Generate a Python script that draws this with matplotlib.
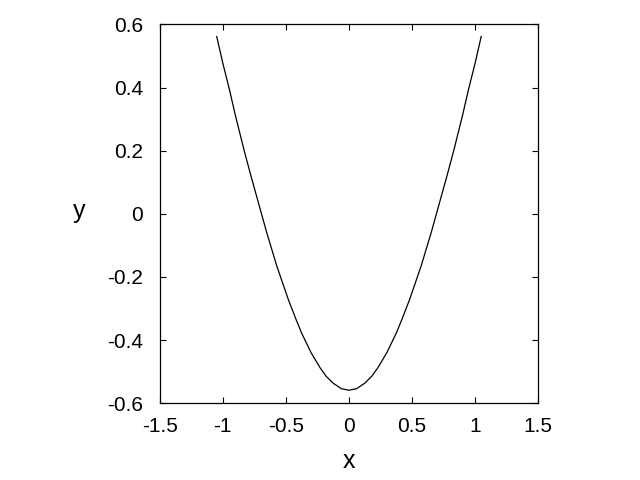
import matplotlib
matplotlib.use('Agg')
from matplotlib import pyplot as plt

# curve points
x_vals = [-1.048, -1.0, -0.948, -0.9, -0.832, -0.78, -0.723, -0.652, -0.573, -0.481,
          -0.42, -0.375, -0.30, -0.23, -0.18, -0.124, -0.06, 0.0,
          0.06, 0.124, 0.18, 0.23, 0.30, 0.375, 0.42, 0.481,
          0.573, 0.652, 0.723, 0.78, 0.832, 0.9, 0.948, 1.0, 1.048]
y_vals = [0.562, 0.478, 0.395, 0.312, 0.203, 0.125, 0.043, -0.059, -0.164, -0.271,
          -0.334, -0.378, -0.440, -0.487, -0.515, -0.537, -0.554, -0.559,
          -0.554, -0.537, -0.515, -0.487, -0.440, -0.378, -0.334, -0.271,
          -0.164, -0.059, 0.043, 0.125, 0.203, 0.312, 0.395, 0.478, 0.562]

x_ticks = [-1.5, -1, -0.5, 0, 0.5, 1, 1.5]
x_ticklabels = ['-1.5', '-1', '-0.5', '0', '0.5', '1', '1.5']
y_ticks = [-0.6, -0.4, -0.2, 0, 0.2, 0.4, 0.6]
y_ticklabels = ['-0.6', '-0.4', '-0.2', '0', '0.2', '0.4', '0.6']

plt.rcParams['font.family'] = ['Liberation Sans', 'DejaVu Sans']
fig = plt.figure(figsize=(6.4, 4.8), dpi=100)
ax = fig.add_axes([0.2495, 0.160, 0.5915, 0.789])
ax.plot(x_vals, y_vals, color='black', linewidth=0.9)
ax.set_xlim(-1.5, 1.5)
ax.set_ylim(-0.6, 0.6)
ax.set_xticks(x_ticks, x_ticklabels)
ax.set_yticks(y_ticks, y_ticklabels)
ax.tick_params(direction='in', length=4.5, width=0.8, top=True, right=True, labelsize=15)
ax.tick_params(axis='x', pad=10)
ax.tick_params(axis='y', pad=12)
for s in ax.spines.values():
    s.set_linewidth(0.9)
ax.set_xlabel('x', fontsize=18, va='center')
ax.set_ylabel('y', fontsize=18, rotation=0, va='center', ha='center')
ax.xaxis.set_label_coords(0.5, -0.153)
ax.yaxis.set_label_coords(-0.213, 0.507)
fig.savefig('out.png', dpi=100)
